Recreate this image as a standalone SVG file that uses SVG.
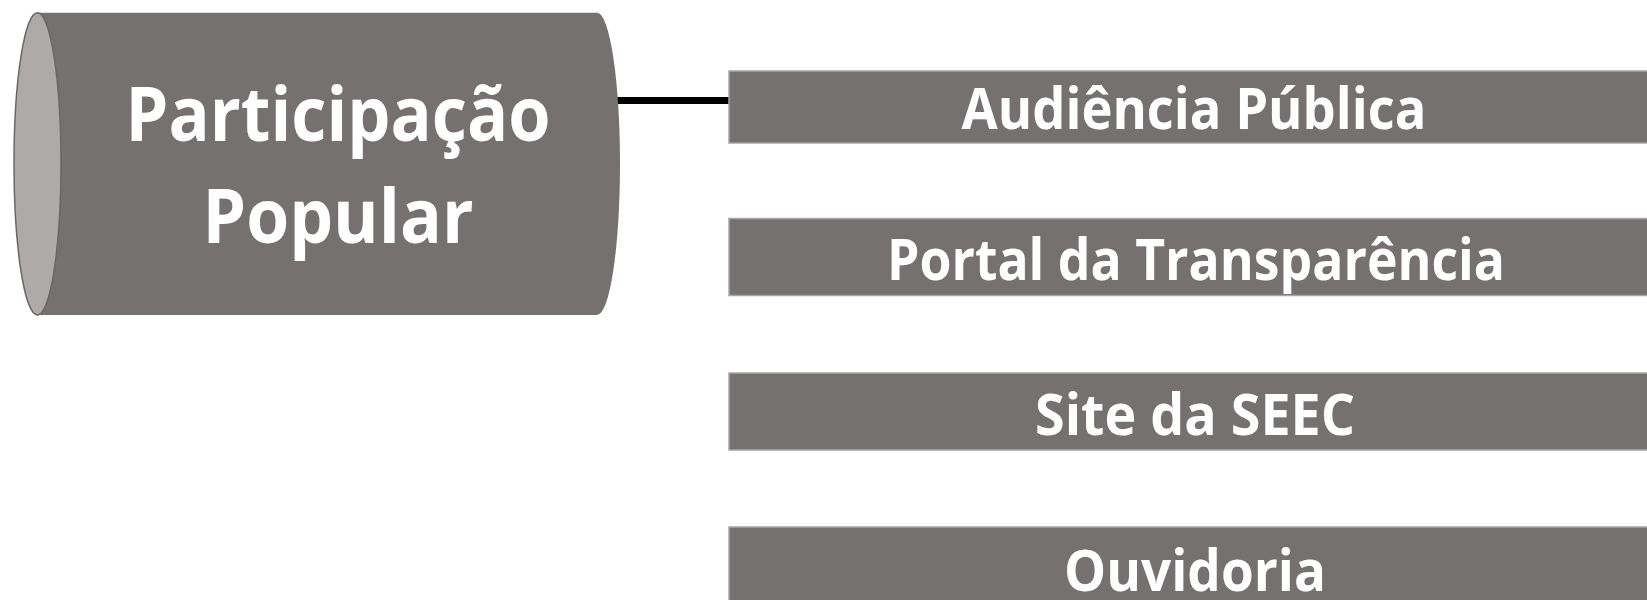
<svg xmlns="http://www.w3.org/2000/svg" width="1647" height="600" viewBox="0 0 1647 600">
<style>
.box{fill:#767171;stroke:#a6a6a6;stroke-width:1.5}
.t{font-family:"Open Sans","Noto Sans","Liberation Sans",sans-serif;font-weight:700;fill:#ffffff;text-anchor:middle}
.bt{font-size:58px}
.ct{font-size:75px}
</style>
<rect width="1647" height="600" fill="#ffffff"/>
<g id="connectors">
<line x1="605" y1="100.5" x2="729" y2="100.5" stroke="#000000" stroke-width="7"/>
</g>
<g id="node-participacao">
<path d="M37.5,12.7 L597,12.7 A23,151.15 0 0 1 597,315 L37.5,315 Z" fill="#767171"/>
<ellipse cx="37.5" cy="163.85" rx="23.5" ry="151.15" fill="#aeaaaa" stroke="#6b6767" stroke-width="1.5"/>
<text class="t ct" x="338" y="141" textLength="425" lengthAdjust="spacingAndGlyphs">Participação</text>
<text class="t ct" x="338" y="243" textLength="271" lengthAdjust="spacingAndGlyphs">Popular</text>
</g>
<g id="node-audiencia">
<rect class="box" x="729" y="71" width="940" height="72"/>
<text class="t bt" x="1194" y="129" textLength="465" lengthAdjust="spacingAndGlyphs">Audiência Pública</text>
</g>
<g id="node-portal">
<rect class="box" x="729" y="218.5" width="940" height="77"/>
<text class="t bt" x="1196" y="280" textLength="618" lengthAdjust="spacingAndGlyphs">Portal da Transparência</text>
</g>
<g id="node-site">
<rect class="box" x="729" y="373" width="940" height="77"/>
<text class="t bt" x="1195" y="435" textLength="320" lengthAdjust="spacingAndGlyphs">Site da SEEC</text>
</g>
<g id="node-ouvidoria">
<rect class="box" x="729" y="527" width="940" height="77"/>
<text class="t bt" x="1195" y="591" textLength="262" lengthAdjust="spacingAndGlyphs">Ouvidoria</text>
</g>
</svg>
